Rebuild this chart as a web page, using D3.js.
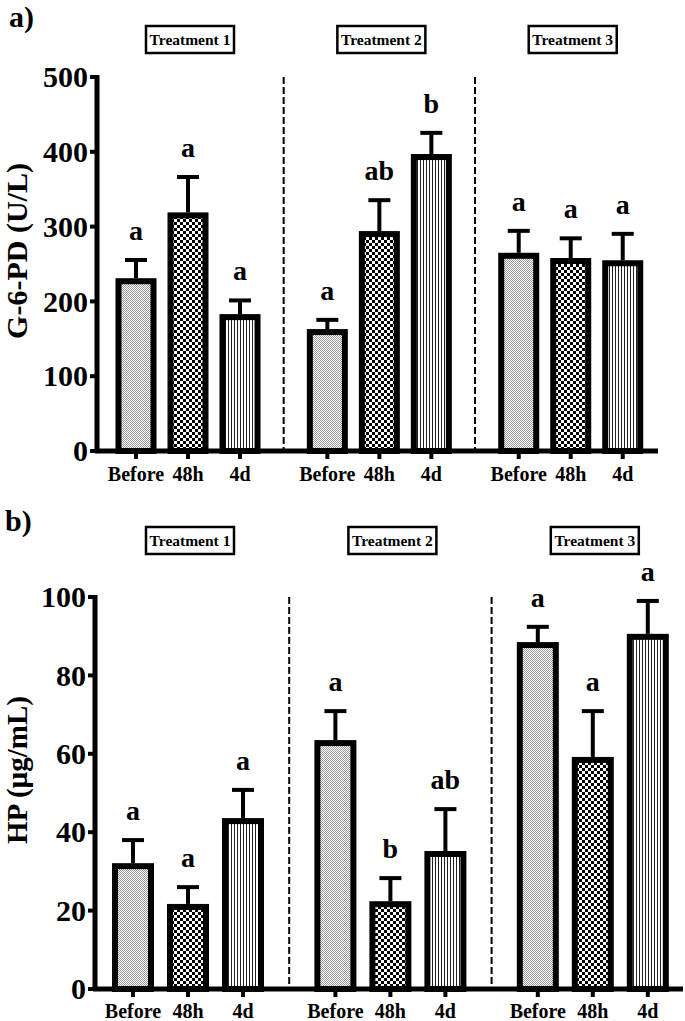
<!DOCTYPE html>
<html><head><meta charset="utf-8">
<script src="https://cdn.jsdelivr.net/npm/d3@7"></script>
<style>body{margin:0;background:#fff}svg{display:block}</style>
</head><body>
<script>
const groups = ["Treatment 1", "Treatment 2", "Treatment 3"];
const times = ["Before", "48h", "4d"];

// Panel a: G-6-PD (U/L)
const g6pdMean = [231, 319, 183, 163, 294, 397, 265, 258, 255];
const g6pdErr  = [27, 50, 21, 15, 44, 31, 32, 29, 38];
const g6pdLetters = ["a", "a", "a", "a", "ab", "b", "a", "a", "a"];
const g6pdTicks = [0, 100, 200, 300, 400, 500];

// Panel b: HP (µg/mL)
const hpMean = [32.1, 21.7, 43.6, 63.5, 22.4, 35.2, 88.5, 59.2, 90.6];
const hpErr  = [6.4, 4.8, 7.7, 7.9, 6.4, 11.2, 4.4, 12.2, 8.9];
const hpLetters = ["a", "a", "a", "a", "b", "ab", "a", "a", "a"];
const hpTicks = [0, 20, 40, 60, 80, 100];

const W = 685, H = 1021;
const FONT = "'Liberation Serif','Times New Roman',serif";
const svg = d3.select("body").append("svg").attr("width", W).attr("height", H)
  .style("font-family", FONT);

const defs = svg.append("defs");
// stipple pattern (Before)
const p1 = defs.append("pattern").attr("id", "pBefore").attr("patternUnits", "userSpaceOnUse")
  .attr("width", 2).attr("height", 2);
p1.append("rect").attr("width", 2).attr("height", 2).attr("fill", "#fff");
p1.append("rect").attr("width", 1).attr("height", 1).attr("fill", "#9a9a9a");
p1.append("rect").attr("x", 1).attr("y", 1).attr("width", 1).attr("height", 1).attr("fill", "#9a9a9a");
// checker pattern (48h)
const p2 = defs.append("pattern").attr("id", "p48h").attr("patternUnits", "userSpaceOnUse")
  .attr("width", 6).attr("height", 6);
p2.append("rect").attr("width", 6).attr("height", 6).attr("fill", "#fff");
p2.append("rect").attr("width", 3).attr("height", 3).attr("fill", "#000");
p2.append("rect").attr("x", 3).attr("y", 3).attr("width", 3).attr("height", 3).attr("fill", "#000");
// vertical lines (4d)
const p3 = defs.append("pattern").attr("id", "p4d").attr("patternUnits", "userSpaceOnUse")
  .attr("width", 3).attr("height", 3);
p3.append("rect").attr("width", 3).attr("height", 3).attr("fill", "#fff");
p3.append("rect").attr("width", 1).attr("height", 3).attr("fill", "#222");
const fills = ["url(#pBefore)", "url(#p48h)", "url(#p4d)"];

const GAP = 3.68;
function slot(i) { return Math.floor(i / 3) * GAP + (i % 3); }

function panel(opt) {
  const { mean, err, letters, ticks, yMax, y0, y1, xStart, xStep, axisX, axisEnd,
          barW, label, ylabel, ylabelX, ylabelY, ylabelSize, boxY, xLabY, tag } = opt;
  const g = svg.append("g");
  const y = d3.scaleLinear().domain([0, yMax]).range([y0, y1]);
  const x = d3.scaleLinear().domain([0, 1]).range([xStart, xStart + xStep]);
  const SW = 6;

  // dashed separators
  for (let k = 0; k < 2; k++) {
    const xs = x(k * GAP + 2 + (GAP - 2) / 2);
    g.append("line").attr("x1", xs).attr("x2", xs).attr("y1", y(yMax)).attr("y2", y(0))
      .attr("stroke", "#000").attr("stroke-width", 2).attr("stroke-dasharray", "7,3");
  }

  // bars
  mean.forEach((v, i) => {
    const cx = x(slot(i));
    g.append("rect")
      .attr("x", cx - barW / 2 + SW / 2).attr("width", barW - SW)
      .attr("y", y(v) + SW / 2).attr("height", y(0) - y(v) - SW / 2)
      .attr("fill", fills[i % 3]).attr("stroke", "#000").attr("stroke-width", SW);
    const top = y(v + err[i]);
    g.append("line").attr("x1", cx).attr("x2", cx).attr("y1", y(v)).attr("y2", top + 2)
      .attr("stroke", "#000").attr("stroke-width", 4);
    g.append("line").attr("x1", cx - 11).attr("x2", cx + 11).attr("y1", top + 2).attr("y2", top + 2)
      .attr("stroke", "#000").attr("stroke-width", 4);
    g.append("text").attr("x", cx).attr("y", top - 18).attr("text-anchor", "middle")
      .attr("font-size", 28).attr("font-weight", "bold").text(letters[i]);
  });

  // y axis
  g.append("line").attr("x1", axisX).attr("x2", axisX).attr("y1", y(yMax) - 2).attr("y2", y(0) + 2)
    .attr("stroke", "#000").attr("stroke-width", 5);
  ticks.forEach(t => {
    g.append("line").attr("x1", axisX - 7).attr("x2", axisX).attr("y1", y(t)).attr("y2", y(t))
      .attr("stroke", "#000").attr("stroke-width", 4);
    g.append("text").attr("x", axisX - 9).attr("y", y(t)).attr("dy", "0.34em")
      .attr("text-anchor", "end").attr("font-size", 30).attr("font-weight", "bold").text(t);
  });
  // x axis
  g.append("line").attr("x1", axisX - 2).attr("x2", axisEnd).attr("y1", y(0)).attr("y2", y(0))
    .attr("stroke", "#000").attr("stroke-width", 5);
  mean.forEach((v, i) => {
    const cx = x(slot(i));
    g.append("line").attr("x1", cx).attr("x2", cx).attr("y1", y(0)).attr("y2", y(0) + 8)
      .attr("stroke", "#000").attr("stroke-width", 4);
    g.append("text").attr("x", cx).attr("y", xLabY).attr("text-anchor", "middle")
      .attr("font-size", 20).attr("font-weight", "bold").text(times[i % 3]);
  });

  // treatment boxes
  groups.forEach((name, k) => {
    const cx = x(k * GAP + 1) + 2;
    g.append("rect").attr("x", cx - 44).attr("y", boxY).attr("width", 88).attr("height", 27)
      .attr("fill", "#fff").attr("stroke", "#000").attr("stroke-width", 2.5);
    g.append("text").attr("x", cx).attr("y", boxY + 14).attr("dy", "0.35em").attr("text-anchor", "middle")
      .attr("font-size", 15.5).attr("font-weight", "bold").text(name);
  });

  // y label
  g.append("text").attr("transform", `translate(${ylabelX},${ylabelY}) rotate(-90)`)
    .attr("text-anchor", "middle").attr("font-size", ylabelSize).attr("font-weight", "bold").text(ylabel);
  // panel tag
  g.append("text").attr("x", tag[0]).attr("y", tag[1]).attr("font-size", 30)
    .attr("font-weight", "bold").text(label);
}

panel({ mean: g6pdMean, err: g6pdErr, letters: g6pdLetters, ticks: g6pdTicks, yMax: 500,
  y0: 451, y1: 77, xStart: 136, xStep: 52, axisX: 97, axisEnd: 658, barW: 41,
  label: "a)", ylabel: "G-6-PD (U/L)", ylabelX: 27, ylabelY: 251, ylabelSize: 30,
  boxY: 26, xLabY: 481, tag: [9, 27] });

panel({ mean: hpMean, err: hpErr, letters: hpLetters, ticks: hpTicks, yMax: 100,
  y0: 989, y1: 597, xStart: 133, xStep: 55, axisX: 95, axisEnd: 683, barW: 42,
  label: "b)", ylabel: "HP (µg/mL)", ylabelX: 27, ylabelY: 770, ylabelSize: 29,
  boxY: 527, xLabY: 1018, tag: [5, 531] });
</script>
</body></html>
